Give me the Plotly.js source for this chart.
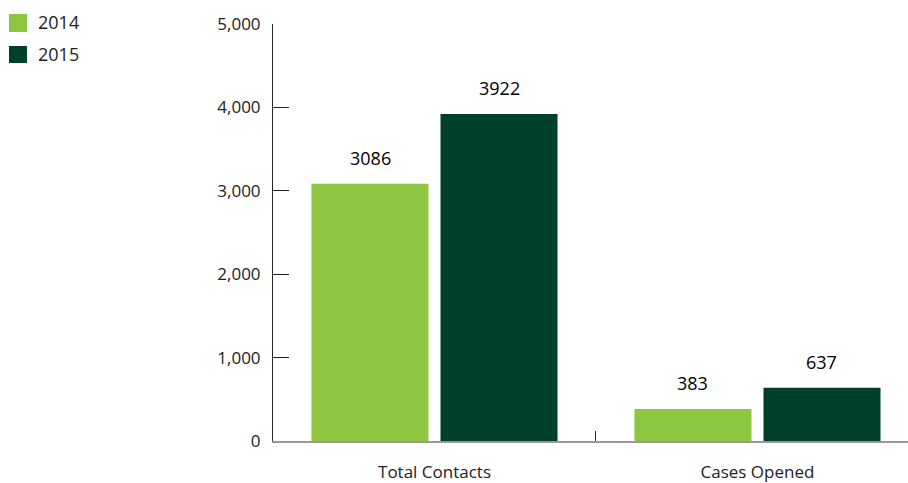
<!DOCTYPE html>
<html><head><meta charset="utf-8">
<script src="https://cdn.plot.ly/plotly-3.0.1.min.js"></script>
<style>html,body{margin:0;padding:0;background:#fff}#c{width:908px;height:483px}</style>
</head><body><div id="c"></div>
<script>
const categories = ["Total Contacts", "Cases Opened"];
const values2014 = [3086, 383];
const values2015 = [3922, 637];
const seriesNames = ["2014", "2015"];
const seriesColors = ["#8DC63F", "#00402A"];
const yTicks = [0, 1000, 2000, 3000, 4000, 5000];
const yTickLabels = ["0", "1,000", "2,000", "3,000", "4,000", "5,000"];

const FONT = "Open Sans, Noto Sans, sans-serif";
const series = [values2014, values2015];
const traces = series.map((vals, i) => ({
  type:'bar', name:seriesNames[i], x:categories, y:vals, marker:{color:seriesColors[i]},
  hoverinfo:'none'
}));

// value labels above bars (annotations positioned from the data)
const offsets = [-64.5, 64.5];
const annotations = [];
series.forEach((vals, i) => {
  vals.forEach((v, j) => {
    annotations.push({x:categories[j], y:v, xref:'x', yref:'y', text:String(v), showarrow:false,
      xanchor:'center', yanchor:'bottom', xshift:offsets[i], yshift:12,
      font:{family:FONT, size:18, color:'#000'}});
  });
});

// custom legend (larger squares than Plotly's built-in legend)
const W = 635, H = 417, L = 273, B = 441;
const px = v => (v - L) / W, py = v => (B - v) / H;
const legendRows = [{top:14, bottom:32, mid:22}, {top:46, bottom:63, mid:54}];
const shapes = legendRows.map((r, i) => ({type:'rect', xref:'paper', yref:'paper',
  x0:px(9), x1:px(27), y0:py(r.bottom), y1:py(r.top), fillcolor:seriesColors[i], line:{width:0}}));
legendRows.forEach((r, i) => annotations.push({xref:'paper', yref:'paper', x:px(36), y:py(r.mid),
  xanchor:'left', yanchor:'middle', showarrow:false, text:seriesNames[i],
  font:{family:FONT, size:18, color:'#222'}}));

const layout = {
  width:908, height:483,
  margin:{l:273, r:0, t:24, b:42},
  paper_bgcolor:'#fff', plot_bgcolor:'#fff',
  font:{family:FONT, size:17, color:'#222'},
  barmode:'group', bargap:0.201, bargroupgap:0.093,
  showlegend:false,
  annotations, shapes,
  xaxis:{type:'category', range:[-0.5, 1.466], showgrid:false, zeroline:false,
    showline:true, linecolor:'#999', linewidth:1.5,
    ticks:'inside', tickson:'boundaries', ticklen:10, tickcolor:'#222', tickwidth:1,
    ticklabelstandoff:15, tickfont:{family:FONT, size:17, color:'#222'}},
  yaxis:{range:[0,5000], tickvals:yTicks, ticktext:yTickLabels, showgrid:false, zeroline:false,
    showline:true, linecolor:'#222', linewidth:1,
    ticks:'inside', ticklen:16, tickcolor:'#222', tickwidth:1,
    ticklabelstandoff:8, tickfont:{family:FONT, size:17, color:'#222'}}
};
Plotly.newPlot('c', traces, layout, {displayModeBar:false, staticPlot:true});
</script></body></html>
